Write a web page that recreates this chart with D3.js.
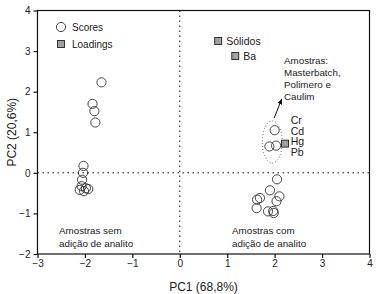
<!DOCTYPE html>
<html>
<head>
<meta charset="utf-8">
<script src="https://cdn.jsdelivr.net/npm/d3@7"></script>
<style>
  body { margin: 0; background: #fff; }
  svg text { font-family: "Liberation Sans", Arial, sans-serif; fill: #222; }
  .tick text { font-size: 10px; }
</style>
</head>
<body>
<script>
// scores (PC1, PC2)
const scoresPC1 = [-1.65, -1.84, -1.80, -1.78,
  -2.03, -2.04, -2.06, -2.07, -1.93, -2.11, -2.02, -1.98,
  2.00, 1.89, 2.03,
  2.05, 1.90, 2.10, 1.69, 1.63, 2.04, 1.62, 1.86, 1.97, 1.98];
const scoresPC2 = [2.23, 1.70, 1.52, 1.24,
  0.17, 0.00, -0.17, -0.33, -0.40, -0.42, -0.45, -0.38,
  1.05, 0.65, 0.67,
  -0.16, -0.43, -0.58, -0.62, -0.66, -0.70, -0.87, -0.95, -0.94, -0.99];

// loadings
const loadingNames = ['Sólidos', 'Ba', 'Cr Cd Hg Pb'];
const loadingsPC1 = [0.81, 1.17, 2.22];
const loadingsPC2 = [3.25, 2.88, 0.72];

const xTicks = [-3, -2, -1, 0, 1, 2, 3, 4];
const yTicks = [-2, -1, 0, 1, 2, 3, 4];

const width = 377, height = 294;
const svg = d3.select('body').append('svg')
  .attr('width', width)
  .attr('height', height);

const x = d3.scaleLinear().domain([-3, 4]).range([37.5, 369.5]);
const y = d3.scaleLinear().domain([-2, 4]).range([254, 10.5]);

// frame
svg.append('rect')
  .attr('x', x(-3)).attr('y', y(4))
  .attr('width', x(4) - x(-3)).attr('height', y(-2) - y(4))
  .attr('fill', 'none').attr('stroke', '#111').attr('stroke-width', 1.2);

// zero lines
svg.append('line')
  .attr('x1', x(0)).attr('x2', x(0)).attr('y1', y(4)).attr('y2', y(-2))
  .attr('stroke', '#111').attr('stroke-dasharray', '1.5,3.5');
svg.append('line')
  .attr('x1', x(-3)).attr('x2', x(4)).attr('y1', y(0)).attr('y2', y(0))
  .attr('stroke', '#111').attr('stroke-dasharray', '1.5,3.5');

// axes
const xAxis = svg.append('g')
  .attr('transform', `translate(0,${y(-2)})`)
  .call(d3.axisBottom(x).tickValues(xTicks).tickSize(4).tickPadding(2).tickFormat(d3.format('d')));
const yAxis = svg.append('g')
  .attr('transform', `translate(${x(-3)},0)`)
  .call(d3.axisLeft(y).tickValues(yTicks).tickSize(4).tickPadding(3).tickFormat(d3.format('d')));
[xAxis, yAxis].forEach(a => {
  a.select('.domain').remove();
  a.selectAll('.tick line').attr('stroke', '#111').attr('stroke-width', 1.2);
  a.selectAll('.tick text').attr('fill', '#222').style('font-family', '"Liberation Sans", Arial, sans-serif');
});

svg.append('text')
  .attr('x', (x(-3) + x(4)) / 2).attr('y', 291)
  .attr('text-anchor', 'middle').style('font-size', '12px')
  .text('PC1 (68,8%)');
svg.append('text')
  .attr('transform', `translate(16,${(y(4) + y(-2)) / 2}) rotate(-90)`)
  .attr('text-anchor', 'middle').style('font-size', '12px')
  .text('PC2 (20,6%)');

// dotted ellipse around the sample group
svg.append('ellipse')
  .attr('cx', x(1.95)).attr('cy', y(0.76))
  .attr('rx', x(2.16) - x(1.95)).attr('ry', y(0.24) - y(0.76))
  .attr('fill', 'none').attr('stroke', '#555').attr('stroke-width', 0.9)
  .attr('stroke-dasharray', '1,2');

// scores
svg.append('g').selectAll('circle')
  .data(scoresPC1.map((v, i) => [v, scoresPC2[i]]))
  .join('circle')
  .attr('cx', d => x(d[0])).attr('cy', d => y(d[1]))
  .attr('r', 4.6)
  .attr('fill', 'none').attr('stroke', '#333').attr('stroke-width', 0.9);

// loadings
const load = loadingsPC1.map((v, i) => ({ name: loadingNames[i], x: v, y: loadingsPC2[i] }));
svg.append('g').selectAll('rect')
  .data(load)
  .join('rect')
  .attr('x', d => x(d.x) - 3.5).attr('y', d => y(d.y) - 3.5)
  .attr('width', 7).attr('height', 7)
  .attr('fill', '#a0a0a0').attr('stroke', '#222').attr('stroke-width', 0.9);

svg.append('g').selectAll('text')
  .data(load.slice(0, 2))
  .join('text')
  .attr('x', d => x(d.x) + 8).attr('y', d => y(d.y) + 4)
  .style('font-size', '10.5px')
  .text(d => d.name);

const metals = load[2].name.split(' ');
svg.append('g').selectAll('text')
  .data(metals)
  .join('text')
  .attr('x', x(2.34))
  .attr('y', (d, i) => y(1.2) + i * 10.5)
  .style('font-size', '10.5px')
  .text(d => d);

// annotations
const annot = svg.append('g').style('font-size', '9.8px');
['Amostras:', 'Masterbatch,', 'Polimero e', 'Caulim'].forEach((t, i) => {
  annot.append('text').attr('x', 284).attr('y', 64 + i * 12).text(t);
});
['Amostras sem', 'adição de analito'].forEach((t, i) => {
  annot.append('text').attr('x', 59).attr('y', 234 + i * 13).text(t);
});
['Amostras com', 'adição de analito'].forEach((t, i) => {
  annot.append('text').attr('x', 232).attr('y', 234 + i * 13).text(t);
});

// arrow
svg.append('defs').append('marker')
  .attr('id', 'ah').attr('viewBox', '0 0 10 10')
  .attr('refX', 9).attr('refY', 5)
  .attr('markerWidth', 6).attr('markerHeight', 6)
  .attr('orient', 'auto')
  .append('path').attr('d', 'M0,1 L10,5 L0,9 Z').attr('fill', '#111');
svg.append('line')
  .attr('x1', x(1.99)).attr('y1', y(1.35))
  .attr('x2', x(2.15)).attr('y2', y(1.82))
  .attr('stroke', '#111').attr('stroke-width', 1)
  .attr('marker-end', 'url(#ah)');

// legend
const legend = svg.append('g').style('font-size', '10px');
legend.append('circle').attr('cx', 61).attr('cy', 27).attr('r', 4.6)
  .attr('fill', 'none').attr('stroke', '#333').attr('stroke-width', 0.9);
legend.append('text').attr('x', 72).attr('y', 31).text('Scores');
legend.append('rect').attr('x', 57.5).attr('y', 40.5).attr('width', 7).attr('height', 7)
  .attr('fill', '#a0a0a0').attr('stroke', '#222').attr('stroke-width', 0.9);
legend.append('text').attr('x', 72).attr('y', 48).text('Loadings');
</script>
</body>
</html>
